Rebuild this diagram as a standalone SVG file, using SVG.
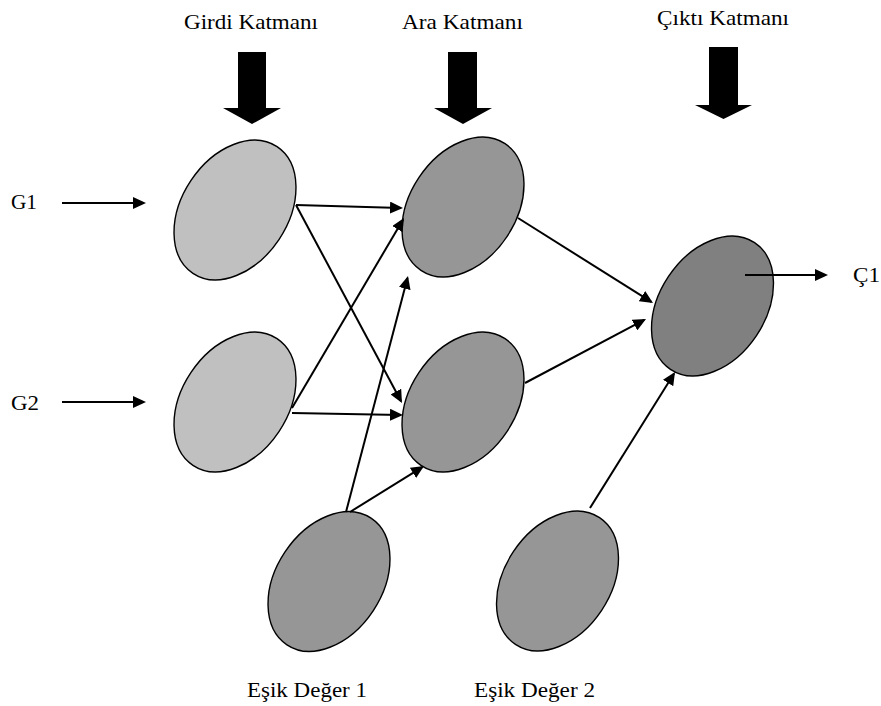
<svg xmlns="http://www.w3.org/2000/svg" width="881" height="706" viewBox="0 0 881 706">
  <defs>
    <style>
      .lbl { font-family: "Liberation Serif", "Times New Roman", serif; font-size: 21px; fill: #000; }
      .node { stroke: #000; stroke-width: 1.4; }
      .in { fill: #c0c0c0; }
      .hid { fill: #969696; }
      .out { fill: #808080; }
      .bias { fill: #969696; }
      .wire { stroke: #000; stroke-width: 2; fill: none; marker-end: url(#tip); }
      .block { fill: #000; }
    </style>
    <marker id="tip" markerUnits="userSpaceOnUse" viewBox="0 0 13 12" refX="11" refY="6" markerWidth="13" markerHeight="12" orient="auto">
      <path d="M0,0 L13,6 L0,12 z" fill="#000"/>
    </marker>
  </defs>
  <rect width="881" height="706" fill="#fff"/>

  <!-- layer headings with block arrows -->
  <g id="heading-input">
    <text class="lbl" x="184" y="28.5" textLength="134" lengthAdjust="spacingAndGlyphs">Girdi Katmanı</text>
    <path class="block" d="M238,52 H266 V108 H281 L252,124 L223,108 H238 Z"/>
  </g>
  <g id="heading-hidden">
    <text class="lbl" x="402" y="28.5" textLength="121" lengthAdjust="spacingAndGlyphs">Ara Katmanı</text>
    <path class="block" d="M448,52 H477 V108 H492 L463,124 L434,108 H448 Z"/>
  </g>
  <g id="heading-output">
    <text class="lbl" x="657" y="24.5" textLength="132" lengthAdjust="spacingAndGlyphs">Çıktı Katmanı</text>
    <path class="block" d="M709,47 H738 V105 H752 L723.5,119 L695,105 H709 Z"/>
  </g>

  <!-- neurons -->
  <g id="input-1">
    <ellipse class="node in" cx="235" cy="210" rx="53" ry="76" transform="rotate(33.6 235 210)"/>
  </g>
  <g id="input-2">
    <ellipse class="node in" cx="235" cy="402" rx="53" ry="76" transform="rotate(33.6 235 402)"/>
  </g>
  <g id="hidden-1">
    <ellipse class="node hid" cx="463" cy="207" rx="53" ry="76" transform="rotate(33.6 463 207)"/>
  </g>
  <g id="hidden-2">
    <ellipse class="node hid" cx="463" cy="402" rx="53" ry="76" transform="rotate(33.6 463 402)"/>
  </g>
  <g id="output-1">
    <ellipse class="node out" cx="712.5" cy="306" rx="53" ry="76" transform="rotate(33.6 712.5 306)"/>
  </g>
  <g id="bias-1">
    <ellipse class="node bias" cx="329" cy="581.5" rx="53" ry="76" transform="rotate(33.6 329 581.5)"/>
    <text class="lbl" x="247" y="697" textLength="120" lengthAdjust="spacingAndGlyphs">Eşik Değer 1</text>
  </g>
  <g id="bias-2">
    <ellipse class="node bias" cx="557.5" cy="581" rx="53" ry="76" transform="rotate(33.6 557.5 581)"/>
    <text class="lbl" x="474" y="697" textLength="121" lengthAdjust="spacingAndGlyphs">Eşik Değer 2</text>
  </g>

  <!-- input / output labels -->
  <g id="label-g1"><text class="lbl" x="11" y="209" textLength="26" lengthAdjust="spacingAndGlyphs">G1</text></g>
  <g id="label-g2"><text class="lbl" x="11" y="410" textLength="28" lengthAdjust="spacingAndGlyphs">G2</text></g>
  <g id="label-c1"><text class="lbl" x="853" y="282" textLength="27" lengthAdjust="spacingAndGlyphs">Ç1</text></g>

  <!-- weighted connections -->
  <g id="connectors">
    <line class="wire" x1="62" y1="203" x2="144" y2="203"/>
    <line class="wire" x1="62" y1="402" x2="144" y2="402"/>
    <line class="wire" x1="296" y1="205" x2="401" y2="207.9"/>
    <line class="wire" x1="296" y1="205" x2="401.06" y2="401.24"/>
    <line class="wire" x1="292" y1="408" x2="402.98" y2="219.72"/>
    <line class="wire" x1="292" y1="413" x2="401" y2="414.96"/>
    <line class="wire" x1="346" y1="512" x2="407.49" y2="277.93"/>
    <line class="wire" x1="350" y1="512" x2="422.3" y2="467.06"/>
    <line class="wire" x1="518" y1="218" x2="651.3" y2="301.93"/>
    <line class="wire" x1="525" y1="383" x2="644.23" y2="319.93"/>
    <line class="wire" x1="590" y1="508" x2="673.94" y2="373.7"/>
    <line class="wire" x1="745" y1="275" x2="826" y2="275"/>
  </g>
</svg>
